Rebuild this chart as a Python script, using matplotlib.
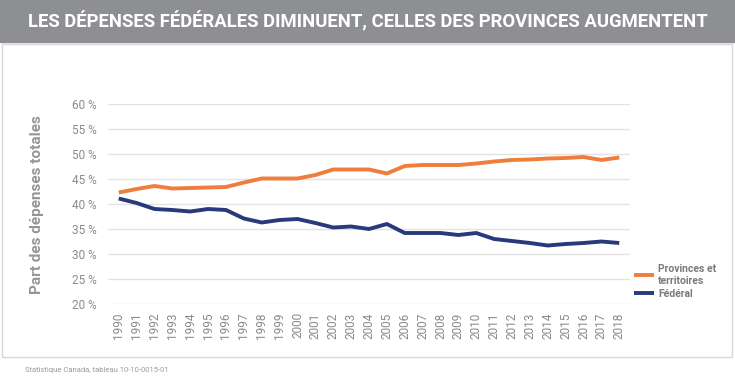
import matplotlib.pyplot as plt
from matplotlib.patches import Rectangle

# données
years = list(range(1990, 2019))
provinces = [42.3, 43.0, 43.6, 43.1, 43.2, 43.3, 43.4, 44.3, 45.1, 45.1,
             45.1, 45.8, 46.9, 46.9, 46.9, 46.1, 47.6, 47.8, 47.8, 47.8,
             48.1, 48.5, 48.8, 48.9, 49.1, 49.2, 49.4, 48.8, 49.3]
federal = [41.1, 40.2, 39.0, 38.8, 38.5, 39.0, 38.8, 37.1, 36.3, 36.8,
           37.0, 36.2, 35.3, 35.5, 35.0, 36.0, 34.2, 34.2, 34.2, 33.8,
           34.2, 33.0, 32.6, 32.2, 31.7, 32.0, 32.2, 32.5, 32.2]
y_ticks = [20, 25, 30, 35, 40, 45, 50, 55, 60]

plt.rcParams['font.family'] = ['Roboto', 'DejaVu Sans']

fig = plt.figure(figsize=(7.35, 3.84), dpi=100)

# bandeau du titre
fig.patches.append(Rectangle((0, 1 - 42/384), 1, 42/384, transform=fig.transFigure,
                             color='#8e8f93', zorder=0))
fig.text(0.5, 1 - 21/384, 'LES DÉPENSES FÉDÉRALES DIMINUENT, CELLES DES PROVINCES AUGMENTENT',
         ha='center', va='center', color='white', fontsize=13.3, fontweight='bold')

# cadre
fig.patches.append(Rectangle((2/735, 1 - 357/384), 730/735, 313/384, transform=fig.transFigure,
                             fill=False, edgecolor='#d8d8d8', linewidth=1))

ax = fig.add_axes([108/735, 1 - 304/384, (630 - 108)/735, 200/384])
ax.plot(years, provinces, color='#ef7d3c', linewidth=2.8, label='Provinces et\nterritoires',
        solid_capstyle='butt')
ax.plot(years, federal, color='#283a7c', linewidth=2.8, label='Fédéral',
        solid_capstyle='butt')

ax.set_ylim(20, 60)
ax.set_xlim(1989.4, 2018.6)
ax.set_yticks(y_ticks)
ax.set_yticklabels([f'{t} %' for t in y_ticks])
ax.set_xticks(years)
ax.set_xticklabels([str(y) for y in years], rotation=90)
ax.grid(axis='y', color='#e3e3e3', linewidth=1)
ax.set_axisbelow(True)
for s in ax.spines.values():
    s.set_visible(False)
ax.tick_params(axis='both', length=0, colors='#8a8a8a', labelsize=8.5)
ax.tick_params(axis='y', pad=8)
ax.tick_params(axis='x', pad=6)

fig.text(37/735, 1 - 205/384, 'Part des dépenses totales', rotation=90, ha='center', va='center',
         color='#959599', fontsize=11, fontweight='bold')

leg = ax.legend(loc='lower left', bbox_to_anchor=(0.99, -0.02), frameon=False,
                handlelength=1.9, handletextpad=0.4, labelspacing=0.3, fontsize=7.5)
for t in leg.get_texts():
    t.set_color('#7a7a7a')
    t.set_fontweight('bold')

fig.text(25/735, 1 - 370/384, 'Statistique Canada, tableau 10-10-0015-01',
         ha='left', va='center', color='#9a9a9a', fontsize=5.5)

fig.savefig('out.png', dpi=100)
